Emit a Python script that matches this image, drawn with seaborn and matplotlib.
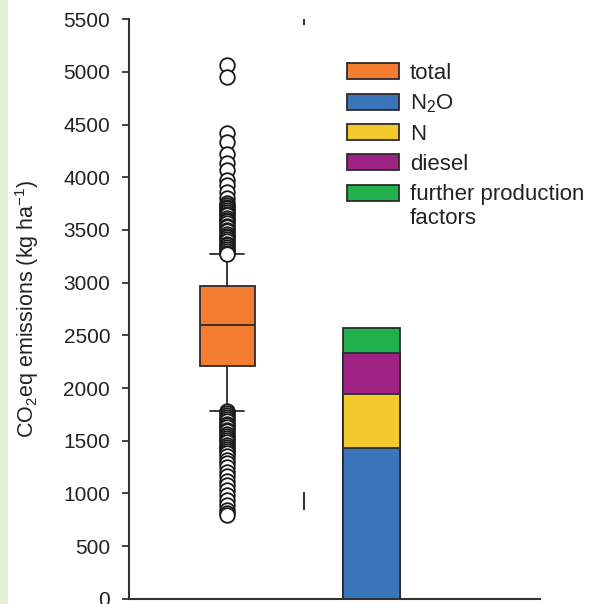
import numpy as np
import pandas as pd
import matplotlib
matplotlib.use('Agg')
import matplotlib.pyplot as plt
from matplotlib.patches import Patch, Rectangle
from matplotlib.legend_handler import HandlerPatch
import seaborn as sns

# box summary (kg CO2eq / ha), whiskers at the 5th / 95th percentile
box_stats = dict(med=2601, q1=2210, q3=2968, whislo=1782, whishi=3272)
fliers_high = [5066, 4950, 4418, 4338, 4221, 4136, 4070, 3975, 3927, 3864, 3801,
               3756, 3741, 3722, 3710, 3693, 3671, 3655, 3640, 3618, 3597, 3583,
               3562, 3540, 3525, 3503, 3488, 3466, 3447, 3431, 3410, 3392, 3371,
               3356, 3338, 3317, 3301, 3286, 3274]
fliers_low = [1779, 1762, 1741, 1722, 1706, 1684, 1663, 1648, 1627, 1604, 1588,
              1566, 1547, 1523, 1502, 1486, 1462, 1441, 1420, 1398, 1383, 1352,
              1320, 1288, 1247, 1203, 1160, 1121, 1078, 1032, 985, 937, 890,
              842, 815, 795]

# stacked bar components
components = ['N$_2$O', 'N', 'diesel', 'further production\nfactors']
comp_values = [1430, 517, 382, 243]
comp_colors = ['#3a75b9', '#f2ca2e', '#9e2184', '#20b14c']
total_label = 'total'
total_color = '#f47d31'

divider_marks = [(5450, 5505), (842, 1016)]

edge = '#2b2b2b'
sns.set_theme(style='white')
plt.rcParams['font.family'] = ['Liberation Sans', 'DejaVu Sans']
plt.rcParams['mathtext.fontset'] = 'custom'
plt.rcParams['mathtext.rm'] = 'Liberation Sans'
plt.rcParams['mathtext.it'] = 'Liberation Sans:italic'
plt.rcParams['mathtext.bf'] = 'Liberation Sans:bold'
plt.rcParams['mathtext.default'] = 'regular'

fig = plt.figure(figsize=(5.94, 6.04), dpi=100)
fig.patches.append(Rectangle((0, 0), 8 / 594, 1, transform=fig.transFigure,
                             facecolor='#e3efd3', edgecolor='none', zorder=0))
ax = fig.add_axes([129 / 594, 1 - 598.7 / 604, (540 - 129) / 594, 579.4 / 604])

stats = dict(box_stats, fliers=fliers_high + fliers_low)
ax.bxp([stats], positions=[0], widths=0.38, patch_artist=True,
       boxprops=dict(facecolor=total_color, edgecolor=edge, linewidth=1.3),
       medianprops=dict(color=edge, linewidth=1.3),
       whiskerprops=dict(color=edge, linewidth=1.3),
       capprops=dict(color=edge, linewidth=1.3), capwidths=0.24,
       flierprops=dict(marker='o', markersize=10.5, markerfacecolor='white',
                       markeredgecolor='#1a1a1a', markeredgewidth=1.3))

# stacked bar: draw cumulative heights from top down
cum = np.cumsum(comp_values)
df = pd.DataFrame({'x': [1] * len(cum), 'y': cum, 'part': components})
for i in range(len(cum) - 1, -1, -1):
    sns.barplot(data=df.iloc[[i]], x='x', y='y', native_scale=True, width=0.4,
                color=comp_colors[i], saturation=1, edgecolor=edge,
                linewidth=1.3, errorbar=None, ax=ax)

for lo, hi in divider_marks:
    ax.vlines(0.53, lo, hi, color='#333333', linewidth=1.5, clip_on=False)

ax.set_xlim(-0.68, 2.167)
ax.set_ylim(0, 5500)
ax.set_yticks(np.arange(0, 5501, 500))
ax.set_xticks([])
ax.set_xlabel('')
ax.set_ylabel('CO$_2$eq emissions (kg ha$^{-1}$)', fontsize=15.5, color='#222222', labelpad=16)
ax.tick_params(axis='y', left=True, length=5, width=1.3, color='#333333',
               labelsize=15, labelcolor='#222222', pad=8.5)
sns.despine(ax=ax)
for s in ['left', 'bottom']:
    ax.spines[s].set_color('#333333')
    ax.spines[s].set_linewidth(1.5)


def top_line_patch(legend, orig_handle, xdescent, ydescent, width, height, fontsize):
    # align the swatch with the first line of a two-line label
    return Rectangle((-xdescent, -ydescent + 0.62 * fontsize), width, height)


handles = [Patch(facecolor=total_color, edgecolor=edge, linewidth=1.3)]
handles += [Patch(facecolor=c, edgecolor=edge, linewidth=1.3) for c in comp_colors]
labels = [total_label] + components
ax.legend(handles, labels, loc='upper left', bbox_to_anchor=(0.53, 0.925),
          frameon=False, fontsize=16, borderpad=0, borderaxespad=0,
          handlelength=2.34, handleheight=0.72, handletextpad=0.5,
          labelspacing=0.4, labelcolor='#222222',
          handler_map={handles[-1]: HandlerPatch(patch_func=top_line_patch)})

fig.savefig('out.png', dpi=100)
plt.close()
